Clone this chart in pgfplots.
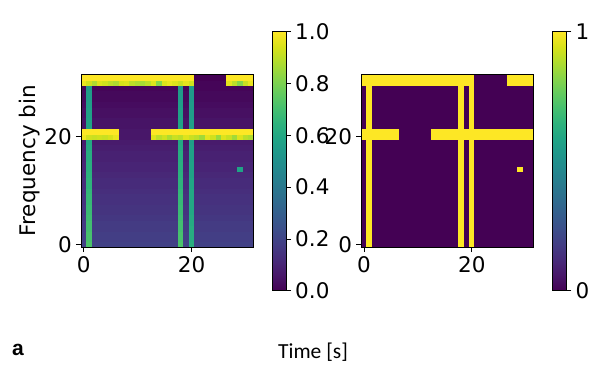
\documentclass[border=0pt]{standalone}
\usepackage{fontspec}
\setmainfont{DejaVu Sans}
\newfontfamily\carlito{Carlito}
\newfontfamily\libsans{Liberation Sans}
\usepackage{pgfplots}
\pgfplotsset{compat=1.18}
\newcommand\fs{\fontsize{21.5}{25}\selectfont}

\pgfplotsset{
  /pgf/number format/assume math mode=true,
  hm/.style={
    scale only axis, width=172.5pt, height=172.5pt,
    xmin=-0.5, xmax=31.5, ymin=-0.5, ymax=31.5,
    xtick={0,20}, ytick={0,20},
    tick align=outside, xtick pos=bottom, ytick pos=left,
    major tick length=5pt,
    tick style={line width=0.9pt, black},
    axis line style={line width=0.9pt},
    tick label style={font=\fs, inner sep=4pt},
    colormap/viridis, point meta min=0, point meta max=1,
    axis on top,
    colorbar,
  },
  cb/.style={
    at={(parent axis.east)}, anchor=west, xshift=10.5pt, yshift=-0.5pt,
    scale only axis, width=13.5pt, height=259pt,
    ytick pos=right, yticklabel pos=right, tick align=outside,
    major tick length=5pt, tick style={line width=0.9pt, black},
    axis line style={line width=0.9pt},
    tick label style={font=\fs, inner sep=4pt},
  },
}

\begin{document}
\begin{tikzpicture}
\useasboundingbox (0,0) rectangle (604pt,373pt);

% measured spectrogram (continuous values)
\begin{axis}[hm, at={(81pt,126pt)}, anchor=south west,
  ylabel={Frequency bin},
  ylabel style={font=\fs, at={(axis description cs:-0.296,0.5)}, anchor=center},
  colorbar style={cb, ytick={0,0.2,0.4,0.6,0.8,1},
    yticklabel style={/pgf/number format/.cd, fixed, fixed zerofill, precision=1}},
]
\addplot[matrix plot*, mesh/cols=32, point meta=explicit] coordinates {
(0,0)[.19] (1,0)[.72] (2,0)[.19] (3,0)[.19] (4,0)[.19] (5,0)[.19] (6,0)[.19] (7,0)[.19] (8,0)[.19] (9,0)[.19] (10,0)[.19] (11,0)[.19] (12,0)[.19] (13,0)[.19] (14,0)[.19] (15,0)[.19] (16,0)[.19] (17,0)[.19] (18,0)[.72] (19,0)[.19] (20,0)[.63] (21,0)[.19] (22,0)[.19] (23,0)[.19] (24,0)[.19] (25,0)[.19] (26,0)[.19] (27,0)[.19] (28,0)[.19] (29,0)[.19] (30,0)[.19] (31,0)[.19]

(0,1)[.18] (1,1)[.71] (2,1)[.18] (3,1)[.18] (4,1)[.18] (5,1)[.18] (6,1)[.18] (7,1)[.18] (8,1)[.18] (9,1)[.18] (10,1)[.18] (11,1)[.18] (12,1)[.18] (13,1)[.18] (14,1)[.18] (15,1)[.18] (16,1)[.18] (17,1)[.18] (18,1)[.71] (19,1)[.18] (20,1)[.62] (21,1)[.18] (22,1)[.18] (23,1)[.18] (24,1)[.18] (25,1)[.18] (26,1)[.18] (27,1)[.18] (28,1)[.18] (29,1)[.18] (30,1)[.18] (31,1)[.18]

(0,2)[.18] (1,2)[.71] (2,2)[.18] (3,2)[.18] (4,2)[.18] (5,2)[.18] (6,2)[.18] (7,2)[.18] (8,2)[.18] (9,2)[.18] (10,2)[.18] (11,2)[.18] (12,2)[.18] (13,2)[.18] (14,2)[.18] (15,2)[.18] (16,2)[.18] (17,2)[.18] (18,2)[.71] (19,2)[.18] (20,2)[.62] (21,2)[.18] (22,2)[.18] (23,2)[.18] (24,2)[.18] (25,2)[.18] (26,2)[.18] (27,2)[.18] (28,2)[.18] (29,2)[.18] (30,2)[.18] (31,2)[.18]

(0,3)[.17] (1,3)[.70] (2,3)[.17] (3,3)[.17] (4,3)[.17] (5,3)[.17] (6,3)[.17] (7,3)[.17] (8,3)[.17] (9,3)[.17] (10,3)[.17] (11,3)[.17] (12,3)[.17] (13,3)[.17] (14,3)[.17] (15,3)[.17] (16,3)[.17] (17,3)[.17] (18,3)[.70] (19,3)[.17] (20,3)[.62] (21,3)[.17] (22,3)[.17] (23,3)[.17] (24,3)[.17] (25,3)[.17] (26,3)[.17] (27,3)[.17] (28,3)[.17] (29,3)[.17] (30,3)[.17] (31,3)[.17]

(0,4)[.17] (1,4)[.70] (2,4)[.17] (3,4)[.17] (4,4)[.17] (5,4)[.17] (6,4)[.17] (7,4)[.17] (8,4)[.17] (9,4)[.17] (10,4)[.17] (11,4)[.17] (12,4)[.17] (13,4)[.17] (14,4)[.17] (15,4)[.17] (16,4)[.17] (17,4)[.17] (18,4)[.70] (19,4)[.17] (20,4)[.61] (21,4)[.17] (22,4)[.17] (23,4)[.17] (24,4)[.17] (25,4)[.17] (26,4)[.17] (27,4)[.17] (28,4)[.17] (29,4)[.17] (30,4)[.17] (31,4)[.17]

(0,5)[.16] (1,5)[.69] (2,5)[.16] (3,5)[.16] (4,5)[.16] (5,5)[.16] (6,5)[.16] (7,5)[.16] (8,5)[.16] (9,5)[.16] (10,5)[.16] (11,5)[.16] (12,5)[.16] (13,5)[.16] (14,5)[.16] (15,5)[.16] (16,5)[.16] (17,5)[.16] (18,5)[.69] (19,5)[.16] (20,5)[.61] (21,5)[.16] (22,5)[.16] (23,5)[.16] (24,5)[.16] (25,5)[.16] (26,5)[.16] (27,5)[.16] (28,5)[.16] (29,5)[.16] (30,5)[.16] (31,5)[.16]

(0,6)[.15] (1,6)[.68] (2,6)[.15] (3,6)[.15] (4,6)[.15] (5,6)[.15] (6,6)[.15] (7,6)[.15] (8,6)[.15] (9,6)[.15] (10,6)[.15] (11,6)[.15] (12,6)[.15] (13,6)[.15] (14,6)[.15] (15,6)[.15] (16,6)[.15] (17,6)[.15] (18,6)[.68] (19,6)[.15] (20,6)[.60] (21,6)[.15] (22,6)[.15] (23,6)[.15] (24,6)[.15] (25,6)[.15] (26,6)[.15] (27,6)[.15] (28,6)[.15] (29,6)[.15] (30,6)[.15] (31,6)[.15]

(0,7)[.15] (1,7)[.68] (2,7)[.15] (3,7)[.15] (4,7)[.15] (5,7)[.15] (6,7)[.15] (7,7)[.15] (8,7)[.15] (9,7)[.15] (10,7)[.15] (11,7)[.15] (12,7)[.15] (13,7)[.15] (14,7)[.15] (15,7)[.15] (16,7)[.15] (17,7)[.15] (18,7)[.68] (19,7)[.15] (20,7)[.60] (21,7)[.15] (22,7)[.15] (23,7)[.15] (24,7)[.15] (25,7)[.15] (26,7)[.15] (27,7)[.15] (28,7)[.15] (29,7)[.15] (30,7)[.15] (31,7)[.15]

(0,8)[.14] (1,8)[.67] (2,8)[.14] (3,8)[.14] (4,8)[.14] (5,8)[.14] (6,8)[.14] (7,8)[.14] (8,8)[.14] (9,8)[.14] (10,8)[.14] (11,8)[.14] (12,8)[.14] (13,8)[.14] (14,8)[.14] (15,8)[.14] (16,8)[.14] (17,8)[.14] (18,8)[.67] (19,8)[.14] (20,8)[.60] (21,8)[.14] (22,8)[.14] (23,8)[.14] (24,8)[.14] (25,8)[.14] (26,8)[.14] (27,8)[.14] (28,8)[.14] (29,8)[.14] (30,8)[.14] (31,8)[.14]

(0,9)[.14] (1,9)[.67] (2,9)[.14] (3,9)[.14] (4,9)[.14] (5,9)[.14] (6,9)[.14] (7,9)[.14] (8,9)[.14] (9,9)[.14] (10,9)[.14] (11,9)[.14] (12,9)[.14] (13,9)[.14] (14,9)[.14] (15,9)[.14] (16,9)[.14] (17,9)[.14] (18,9)[.67] (19,9)[.14] (20,9)[.60] (21,9)[.14] (22,9)[.14] (23,9)[.14] (24,9)[.14] (25,9)[.14] (26,9)[.14] (27,9)[.14] (28,9)[.14] (29,9)[.14] (30,9)[.14] (31,9)[.14]

(0,10)[.13] (1,10)[.66] (2,10)[.13] (3,10)[.13] (4,10)[.13] (5,10)[.13] (6,10)[.13] (7,10)[.13] (8,10)[.13] (9,10)[.13] (10,10)[.13] (11,10)[.13] (12,10)[.13] (13,10)[.13] (14,10)[.13] (15,10)[.13] (16,10)[.13] (17,10)[.13] (18,10)[.66] (19,10)[.13] (20,10)[.60] (21,10)[.13] (22,10)[.13] (23,10)[.13] (24,10)[.13] (25,10)[.13] (26,10)[.13] (27,10)[.13] (28,10)[.13] (29,10)[.13] (30,10)[.13] (31,10)[.13]

(0,11)[.12] (1,11)[.65] (2,11)[.12] (3,11)[.12] (4,11)[.12] (5,11)[.12] (6,11)[.12] (7,11)[.12] (8,11)[.12] (9,11)[.12] (10,11)[.12] (11,11)[.12] (12,11)[.12] (13,11)[.12] (14,11)[.12] (15,11)[.12] (16,11)[.12] (17,11)[.12] (18,11)[.65] (19,11)[.12] (20,11)[.59] (21,11)[.12] (22,11)[.12] (23,11)[.12] (24,11)[.12] (25,11)[.12] (26,11)[.12] (27,11)[.12] (28,11)[.12] (29,11)[.12] (30,11)[.12] (31,11)[.12]

(0,12)[.12] (1,12)[.65] (2,12)[.12] (3,12)[.12] (4,12)[.12] (5,12)[.12] (6,12)[.12] (7,12)[.12] (8,12)[.12] (9,12)[.12] (10,12)[.12] (11,12)[.12] (12,12)[.12] (13,12)[.12] (14,12)[.12] (15,12)[.12] (16,12)[.12] (17,12)[.12] (18,12)[.65] (19,12)[.12] (20,12)[.59] (21,12)[.12] (22,12)[.12] (23,12)[.12] (24,12)[.12] (25,12)[.12] (26,12)[.12] (27,12)[.12] (28,12)[.12] (29,12)[.12] (30,12)[.12] (31,12)[.12]

(0,13)[.11] (1,13)[.64] (2,13)[.11] (3,13)[.11] (4,13)[.11] (5,13)[.11] (6,13)[.11] (7,13)[.11] (8,13)[.11] (9,13)[.11] (10,13)[.11] (11,13)[.11] (12,13)[.11] (13,13)[.11] (14,13)[.11] (15,13)[.11] (16,13)[.11] (17,13)[.11] (18,13)[.64] (19,13)[.11] (20,13)[.58] (21,13)[.11] (22,13)[.11] (23,13)[.11] (24,13)[.11] (25,13)[.11] (26,13)[.11] (27,13)[.11] (28,13)[.11] (29,13)[.11] (30,13)[.11] (31,13)[.11]

(0,14)[.10] (1,14)[.63] (2,14)[.10] (3,14)[.10] (4,14)[.10] (5,14)[.10] (6,14)[.10] (7,14)[.10] (8,14)[.10] (9,14)[.10] (10,14)[.10] (11,14)[.10] (12,14)[.10] (13,14)[.10] (14,14)[.10] (15,14)[.10] (16,14)[.10] (17,14)[.10] (18,14)[.63] (19,14)[.10] (20,14)[.58] (21,14)[.10] (22,14)[.10] (23,14)[.10] (24,14)[.10] (25,14)[.10] (26,14)[.10] (27,14)[.10] (28,14)[.10] (29,14)[.58] (30,14)[.10] (31,14)[.10]

(0,15)[.10] (1,15)[.63] (2,15)[.10] (3,15)[.10] (4,15)[.10] (5,15)[.10] (6,15)[.10] (7,15)[.10] (8,15)[.10] (9,15)[.10] (10,15)[.10] (11,15)[.10] (12,15)[.10] (13,15)[.10] (14,15)[.10] (15,15)[.10] (16,15)[.10] (17,15)[.10] (18,15)[.63] (19,15)[.10] (20,15)[.58] (21,15)[.10] (22,15)[.10] (23,15)[.10] (24,15)[.10] (25,15)[.10] (26,15)[.10] (27,15)[.10] (28,15)[.10] (29,15)[.10] (30,15)[.10] (31,15)[.10]

(0,16)[.09] (1,16)[.62] (2,16)[.09] (3,16)[.09] (4,16)[.09] (5,16)[.09] (6,16)[.09] (7,16)[.09] (8,16)[.09] (9,16)[.09] (10,16)[.09] (11,16)[.09] (12,16)[.09] (13,16)[.09] (14,16)[.09] (15,16)[.09] (16,16)[.09] (17,16)[.09] (18,16)[.62] (19,16)[.09] (20,16)[.57] (21,16)[.09] (22,16)[.09] (23,16)[.09] (24,16)[.09] (25,16)[.09] (26,16)[.09] (27,16)[.09] (28,16)[.09] (29,16)[.09] (30,16)[.09] (31,16)[.09]

(0,17)[.09] (1,17)[.62] (2,17)[.09] (3,17)[.09] (4,17)[.09] (5,17)[.09] (6,17)[.09] (7,17)[.09] (8,17)[.09] (9,17)[.09] (10,17)[.09] (11,17)[.09] (12,17)[.09] (13,17)[.09] (14,17)[.09] (15,17)[.09] (16,17)[.09] (17,17)[.09] (18,17)[.62] (19,17)[.09] (20,17)[.57] (21,17)[.09] (22,17)[.09] (23,17)[.09] (24,17)[.09] (25,17)[.09] (26,17)[.09] (27,17)[.09] (28,17)[.09] (29,17)[.09] (30,17)[.09] (31,17)[.09]

(0,18)[.08] (1,18)[.61] (2,18)[.08] (3,18)[.08] (4,18)[.08] (5,18)[.08] (6,18)[.08] (7,18)[.08] (8,18)[.08] (9,18)[.08] (10,18)[.08] (11,18)[.08] (12,18)[.08] (13,18)[.08] (14,18)[.08] (15,18)[.08] (16,18)[.08] (17,18)[.08] (18,18)[.61] (19,18)[.08] (20,18)[.57] (21,18)[.08] (22,18)[.08] (23,18)[.08] (24,18)[.08] (25,18)[.08] (26,18)[.08] (27,18)[.08] (28,18)[.08] (29,18)[.08] (30,18)[.08] (31,18)[.08]

(0,19)[.07] (1,19)[.60] (2,19)[.07] (3,19)[.07] (4,19)[.07] (5,19)[.07] (6,19)[.07] (7,19)[.07] (8,19)[.07] (9,19)[.07] (10,19)[.07] (11,19)[.07] (12,19)[.07] (13,19)[.07] (14,19)[.07] (15,19)[.07] (16,19)[.07] (17,19)[.07] (18,19)[.60] (19,19)[.07] (20,19)[.56] (21,19)[.07] (22,19)[.07] (23,19)[.07] (24,19)[.07] (25,19)[.07] (26,19)[.07] (27,19)[.07] (28,19)[.07] (29,19)[.07] (30,19)[.07] (31,19)[.07]

(0,20)[.98] (1,20)[.93] (2,20)[.92] (3,20)[.93] (4,20)[.92] (5,20)[.94] (6,20)[.97] (7,20)[.06] (8,20)[.06] (9,20)[.06] (10,20)[.06] (11,20)[.06] (12,20)[.06] (13,20)[.95] (14,20)[.90] (15,20)[.93] (16,20)[.88] (17,20)[.92] (18,20)[.90] (19,20)[.95] (20,20)[.92] (21,20)[.90] (22,20)[.86] (23,20)[.96] (24,20)[.93] (25,20)[.85] (26,20)[.95] (27,20)[.92] (28,20)[.86] (29,20)[.95] (30,20)[.90] (31,20)[.88]

(0,21)[1] (1,21)[1] (2,21)[1] (3,21)[1] (4,21)[1] (5,21)[1] (6,21)[1] (7,21)[.06] (8,21)[.06] (9,21)[.06] (10,21)[.06] (11,21)[.06] (12,21)[.06] (13,21)[1] (14,21)[1] (15,21)[1] (16,21)[1] (17,21)[1] (18,21)[1] (19,21)[1] (20,21)[1] (21,21)[1] (22,21)[1] (23,21)[1] (24,21)[1] (25,21)[1] (26,21)[1] (27,21)[1] (28,21)[1] (29,21)[1] (30,21)[1] (31,21)[1]

(0,22)[.05] (1,22)[.58] (2,22)[.05] (3,22)[.05] (4,22)[.05] (5,22)[.05] (6,22)[.05] (7,22)[.05] (8,22)[.05] (9,22)[.05] (10,22)[.05] (11,22)[.05] (12,22)[.05] (13,22)[.05] (14,22)[.05] (15,22)[.05] (16,22)[.05] (17,22)[.05] (18,22)[.58] (19,22)[.05] (20,22)[.56] (21,22)[.05] (22,22)[.05] (23,22)[.05] (24,22)[.05] (25,22)[.05] (26,22)[.05] (27,22)[.05] (28,22)[.05] (29,22)[.05] (30,22)[.05] (31,22)[.05]

(0,23)[.05] (1,23)[.58] (2,23)[.05] (3,23)[.05] (4,23)[.05] (5,23)[.05] (6,23)[.05] (7,23)[.05] (8,23)[.05] (9,23)[.05] (10,23)[.05] (11,23)[.05] (12,23)[.05] (13,23)[.05] (14,23)[.05] (15,23)[.05] (16,23)[.05] (17,23)[.05] (18,23)[.58] (19,23)[.05] (20,23)[.56] (21,23)[.05] (22,23)[.05] (23,23)[.05] (24,23)[.05] (25,23)[.05] (26,23)[.05] (27,23)[.05] (28,23)[.05] (29,23)[.05] (30,23)[.05] (31,23)[.05]

(0,24)[.04] (1,24)[.57] (2,24)[.04] (3,24)[.04] (4,24)[.04] (5,24)[.04] (6,24)[.04] (7,24)[.04] (8,24)[.04] (9,24)[.04] (10,24)[.04] (11,24)[.04] (12,24)[.04] (13,24)[.04] (14,24)[.04] (15,24)[.04] (16,24)[.04] (17,24)[.04] (18,24)[.57] (19,24)[.04] (20,24)[.55] (21,24)[.04] (22,24)[.04] (23,24)[.04] (24,24)[.04] (25,24)[.04] (26,24)[.04] (27,24)[.04] (28,24)[.04] (29,24)[.04] (30,24)[.04] (31,24)[.04]

(0,25)[.04] (1,25)[.57] (2,25)[.04] (3,25)[.04] (4,25)[.04] (5,25)[.04] (6,25)[.04] (7,25)[.04] (8,25)[.04] (9,25)[.04] (10,25)[.04] (11,25)[.04] (12,25)[.04] (13,25)[.04] (14,25)[.04] (15,25)[.04] (16,25)[.04] (17,25)[.04] (18,25)[.57] (19,25)[.04] (20,25)[.55] (21,25)[.04] (22,25)[.04] (23,25)[.04] (24,25)[.04] (25,25)[.04] (26,25)[.04] (27,25)[.04] (28,25)[.04] (29,25)[.04] (30,25)[.04] (31,25)[.04]

(0,26)[.03] (1,26)[.56] (2,26)[.03] (3,26)[.03] (4,26)[.03] (5,26)[.03] (6,26)[.03] (7,26)[.03] (8,26)[.03] (9,26)[.03] (10,26)[.03] (11,26)[.03] (12,26)[.03] (13,26)[.03] (14,26)[.03] (15,26)[.03] (16,26)[.03] (17,26)[.03] (18,26)[.56] (19,26)[.03] (20,26)[.55] (21,26)[.03] (22,26)[.03] (23,26)[.03] (24,26)[.03] (25,26)[.03] (26,26)[.03] (27,26)[.03] (28,26)[.03] (29,26)[.03] (30,26)[.03] (31,26)[.03]

(0,27)[.02] (1,27)[.55] (2,27)[.02] (3,27)[.02] (4,27)[.02] (5,27)[.02] (6,27)[.02] (7,27)[.02] (8,27)[.02] (9,27)[.02] (10,27)[.02] (11,27)[.02] (12,27)[.02] (13,27)[.02] (14,27)[.02] (15,27)[.02] (16,27)[.02] (17,27)[.02] (18,27)[.55] (19,27)[.02] (20,27)[.54] (21,27)[.02] (22,27)[.02] (23,27)[.02] (24,27)[.02] (25,27)[.02] (26,27)[.02] (27,27)[.02] (28,27)[.02] (29,27)[.02] (30,27)[.02] (31,27)[.02]

(0,28)[.02] (1,28)[.55] (2,28)[.02] (3,28)[.02] (4,28)[.02] (5,28)[.02] (6,28)[.02] (7,28)[.02] (8,28)[.02] (9,28)[.02] (10,28)[.02] (11,28)[.02] (12,28)[.02] (13,28)[.02] (14,28)[.02] (15,28)[.02] (16,28)[.02] (17,28)[.02] (18,28)[.55] (19,28)[.02] (20,28)[.54] (21,28)[.02] (22,28)[.02] (23,28)[.02] (24,28)[.02] (25,28)[.02] (26,28)[.02] (27,28)[.02] (28,28)[.02] (29,28)[.02] (30,28)[.02] (31,28)[.02]

(0,29)[.01] (1,29)[.54] (2,29)[.01] (3,29)[.01] (4,29)[.01] (5,29)[.01] (6,29)[.01] (7,29)[.01] (8,29)[.01] (9,29)[.01] (10,29)[.01] (11,29)[.01] (12,29)[.01] (13,29)[.01] (14,29)[.01] (15,29)[.01] (16,29)[.01] (17,29)[.01] (18,29)[.54] (19,29)[.01] (20,29)[.54] (21,29)[.01] (22,29)[.01] (23,29)[.01] (24,29)[.01] (25,29)[.01] (26,29)[.01] (27,29)[.01] (28,29)[.01] (29,29)[.01] (30,29)[.01] (31,29)[.01]

(0,30)[.97] (1,30)[.93] (2,30)[.88] (3,30)[.95] (4,30)[.93] (5,30)[.90] (6,30)[.88] (7,30)[.94] (8,30)[.95] (9,30)[.90] (10,30)[.88] (11,30)[.87] (12,30)[.90] (13,30)[.95] (14,30)[.82] (15,30)[.95] (16,30)[.97] (17,30)[.95] (18,30)[.92] (19,30)[.96] (20,30)[.93] (21,30)[.01] (22,30)[.01] (23,30)[.01] (24,30)[.01] (25,30)[.01] (26,30)[.01] (27,30)[.96] (28,30)[.90] (29,30)[.82] (30,30)[.92] (31,30)[.97]

(0,31)[1] (1,31)[1] (2,31)[1] (3,31)[1] (4,31)[1] (5,31)[1] (6,31)[1] (7,31)[1] (8,31)[1] (9,31)[1] (10,31)[1] (11,31)[1] (12,31)[1] (13,31)[1] (14,31)[1] (15,31)[1] (16,31)[1] (17,31)[1] (18,31)[1] (19,31)[1] (20,31)[1] (21,31)[0] (22,31)[0] (23,31)[0] (24,31)[0] (25,31)[0] (26,31)[0] (27,31)[1] (28,31)[1] (29,31)[1] (30,31)[1] (31,31)[1]
};
\end{axis}

% thresholded (binary) mask
\begin{axis}[hm, at={(361.3pt,126pt)}, anchor=south west,
  colorbar style={cb, ytick={0,1}},
]
\addplot[matrix plot*, mesh/cols=32, point meta=explicit] coordinates {
(0,0)[0] (1,0)[1] (2,0)[0] (3,0)[0] (4,0)[0] (5,0)[0] (6,0)[0] (7,0)[0] (8,0)[0] (9,0)[0] (10,0)[0] (11,0)[0] (12,0)[0] (13,0)[0] (14,0)[0] (15,0)[0] (16,0)[0] (17,0)[0] (18,0)[1] (19,0)[0] (20,0)[1] (21,0)[0] (22,0)[0] (23,0)[0] (24,0)[0] (25,0)[0] (26,0)[0] (27,0)[0] (28,0)[0] (29,0)[0] (30,0)[0] (31,0)[0]
(0,1)[0] (1,1)[1] (2,1)[0] (3,1)[0] (4,1)[0] (5,1)[0] (6,1)[0] (7,1)[0] (8,1)[0] (9,1)[0] (10,1)[0] (11,1)[0] (12,1)[0] (13,1)[0] (14,1)[0] (15,1)[0] (16,1)[0] (17,1)[0] (18,1)[1] (19,1)[0] (20,1)[1] (21,1)[0] (22,1)[0] (23,1)[0] (24,1)[0] (25,1)[0] (26,1)[0] (27,1)[0] (28,1)[0] (29,1)[0] (30,1)[0] (31,1)[0]
(0,2)[0] (1,2)[1] (2,2)[0] (3,2)[0] (4,2)[0] (5,2)[0] (6,2)[0] (7,2)[0] (8,2)[0] (9,2)[0] (10,2)[0] (11,2)[0] (12,2)[0] (13,2)[0] (14,2)[0] (15,2)[0] (16,2)[0] (17,2)[0] (18,2)[1] (19,2)[0] (20,2)[1] (21,2)[0] (22,2)[0] (23,2)[0] (24,2)[0] (25,2)[0] (26,2)[0] (27,2)[0] (28,2)[0] (29,2)[0] (30,2)[0] (31,2)[0]
(0,3)[0] (1,3)[1] (2,3)[0] (3,3)[0] (4,3)[0] (5,3)[0] (6,3)[0] (7,3)[0] (8,3)[0] (9,3)[0] (10,3)[0] (11,3)[0] (12,3)[0] (13,3)[0] (14,3)[0] (15,3)[0] (16,3)[0] (17,3)[0] (18,3)[1] (19,3)[0] (20,3)[1] (21,3)[0] (22,3)[0] (23,3)[0] (24,3)[0] (25,3)[0] (26,3)[0] (27,3)[0] (28,3)[0] (29,3)[0] (30,3)[0] (31,3)[0]
(0,4)[0] (1,4)[1] (2,4)[0] (3,4)[0] (4,4)[0] (5,4)[0] (6,4)[0] (7,4)[0] (8,4)[0] (9,4)[0] (10,4)[0] (11,4)[0] (12,4)[0] (13,4)[0] (14,4)[0] (15,4)[0] (16,4)[0] (17,4)[0] (18,4)[1] (19,4)[0] (20,4)[1] (21,4)[0] (22,4)[0] (23,4)[0] (24,4)[0] (25,4)[0] (26,4)[0] (27,4)[0] (28,4)[0] (29,4)[0] (30,4)[0] (31,4)[0]
(0,5)[0] (1,5)[1] (2,5)[0] (3,5)[0] (4,5)[0] (5,5)[0] (6,5)[0] (7,5)[0] (8,5)[0] (9,5)[0] (10,5)[0] (11,5)[0] (12,5)[0] (13,5)[0] (14,5)[0] (15,5)[0] (16,5)[0] (17,5)[0] (18,5)[1] (19,5)[0] (20,5)[1] (21,5)[0] (22,5)[0] (23,5)[0] (24,5)[0] (25,5)[0] (26,5)[0] (27,5)[0] (28,5)[0] (29,5)[0] (30,5)[0] (31,5)[0]
(0,6)[0] (1,6)[1] (2,6)[0] (3,6)[0] (4,6)[0] (5,6)[0] (6,6)[0] (7,6)[0] (8,6)[0] (9,6)[0] (10,6)[0] (11,6)[0] (12,6)[0] (13,6)[0] (14,6)[0] (15,6)[0] (16,6)[0] (17,6)[0] (18,6)[1] (19,6)[0] (20,6)[1] (21,6)[0] (22,6)[0] (23,6)[0] (24,6)[0] (25,6)[0] (26,6)[0] (27,6)[0] (28,6)[0] (29,6)[0] (30,6)[0] (31,6)[0]
(0,7)[0] (1,7)[1] (2,7)[0] (3,7)[0] (4,7)[0] (5,7)[0] (6,7)[0] (7,7)[0] (8,7)[0] (9,7)[0] (10,7)[0] (11,7)[0] (12,7)[0] (13,7)[0] (14,7)[0] (15,7)[0] (16,7)[0] (17,7)[0] (18,7)[1] (19,7)[0] (20,7)[1] (21,7)[0] (22,7)[0] (23,7)[0] (24,7)[0] (25,7)[0] (26,7)[0] (27,7)[0] (28,7)[0] (29,7)[0] (30,7)[0] (31,7)[0]
(0,8)[0] (1,8)[1] (2,8)[0] (3,8)[0] (4,8)[0] (5,8)[0] (6,8)[0] (7,8)[0] (8,8)[0] (9,8)[0] (10,8)[0] (11,8)[0] (12,8)[0] (13,8)[0] (14,8)[0] (15,8)[0] (16,8)[0] (17,8)[0] (18,8)[1] (19,8)[0] (20,8)[1] (21,8)[0] (22,8)[0] (23,8)[0] (24,8)[0] (25,8)[0] (26,8)[0] (27,8)[0] (28,8)[0] (29,8)[0] (30,8)[0] (31,8)[0]
(0,9)[0] (1,9)[1] (2,9)[0] (3,9)[0] (4,9)[0] (5,9)[0] (6,9)[0] (7,9)[0] (8,9)[0] (9,9)[0] (10,9)[0] (11,9)[0] (12,9)[0] (13,9)[0] (14,9)[0] (15,9)[0] (16,9)[0] (17,9)[0] (18,9)[1] (19,9)[0] (20,9)[1] (21,9)[0] (22,9)[0] (23,9)[0] (24,9)[0] (25,9)[0] (26,9)[0] (27,9)[0] (28,9)[0] (29,9)[0] (30,9)[0] (31,9)[0]
(0,10)[0] (1,10)[1] (2,10)[0] (3,10)[0] (4,10)[0] (5,10)[0] (6,10)[0] (7,10)[0] (8,10)[0] (9,10)[0] (10,10)[0] (11,10)[0] (12,10)[0] (13,10)[0] (14,10)[0] (15,10)[0] (16,10)[0] (17,10)[0] (18,10)[1] (19,10)[0] (20,10)[1] (21,10)[0] (22,10)[0] (23,10)[0] (24,10)[0] (25,10)[0] (26,10)[0] (27,10)[0] (28,10)[0] (29,10)[0] (30,10)[0] (31,10)[0]
(0,11)[0] (1,11)[1] (2,11)[0] (3,11)[0] (4,11)[0] (5,11)[0] (6,11)[0] (7,11)[0] (8,11)[0] (9,11)[0] (10,11)[0] (11,11)[0] (12,11)[0] (13,11)[0] (14,11)[0] (15,11)[0] (16,11)[0] (17,11)[0] (18,11)[1] (19,11)[0] (20,11)[1] (21,11)[0] (22,11)[0] (23,11)[0] (24,11)[0] (25,11)[0] (26,11)[0] (27,11)[0] (28,11)[0] (29,11)[0] (30,11)[0] (31,11)[0]
(0,12)[0] (1,12)[1] (2,12)[0] (3,12)[0] (4,12)[0] (5,12)[0] (6,12)[0] (7,12)[0] (8,12)[0] (9,12)[0] (10,12)[0] (11,12)[0] (12,12)[0] (13,12)[0] (14,12)[0] (15,12)[0] (16,12)[0] (17,12)[0] (18,12)[1] (19,12)[0] (20,12)[1] (21,12)[0] (22,12)[0] (23,12)[0] (24,12)[0] (25,12)[0] (26,12)[0] (27,12)[0] (28,12)[0] (29,12)[0] (30,12)[0] (31,12)[0]
(0,13)[0] (1,13)[1] (2,13)[0] (3,13)[0] (4,13)[0] (5,13)[0] (6,13)[0] (7,13)[0] (8,13)[0] (9,13)[0] (10,13)[0] (11,13)[0] (12,13)[0] (13,13)[0] (14,13)[0] (15,13)[0] (16,13)[0] (17,13)[0] (18,13)[1] (19,13)[0] (20,13)[1] (21,13)[0] (22,13)[0] (23,13)[0] (24,13)[0] (25,13)[0] (26,13)[0] (27,13)[0] (28,13)[0] (29,13)[0] (30,13)[0] (31,13)[0]
(0,14)[0] (1,14)[1] (2,14)[0] (3,14)[0] (4,14)[0] (5,14)[0] (6,14)[0] (7,14)[0] (8,14)[0] (9,14)[0] (10,14)[0] (11,14)[0] (12,14)[0] (13,14)[0] (14,14)[0] (15,14)[0] (16,14)[0] (17,14)[0] (18,14)[1] (19,14)[0] (20,14)[1] (21,14)[0] (22,14)[0] (23,14)[0] (24,14)[0] (25,14)[0] (26,14)[0] (27,14)[0] (28,14)[0] (29,14)[1] (30,14)[0] (31,14)[0]
(0,15)[0] (1,15)[1] (2,15)[0] (3,15)[0] (4,15)[0] (5,15)[0] (6,15)[0] (7,15)[0] (8,15)[0] (9,15)[0] (10,15)[0] (11,15)[0] (12,15)[0] (13,15)[0] (14,15)[0] (15,15)[0] (16,15)[0] (17,15)[0] (18,15)[1] (19,15)[0] (20,15)[1] (21,15)[0] (22,15)[0] (23,15)[0] (24,15)[0] (25,15)[0] (26,15)[0] (27,15)[0] (28,15)[0] (29,15)[0] (30,15)[0] (31,15)[0]
(0,16)[0] (1,16)[1] (2,16)[0] (3,16)[0] (4,16)[0] (5,16)[0] (6,16)[0] (7,16)[0] (8,16)[0] (9,16)[0] (10,16)[0] (11,16)[0] (12,16)[0] (13,16)[0] (14,16)[0] (15,16)[0] (16,16)[0] (17,16)[0] (18,16)[1] (19,16)[0] (20,16)[1] (21,16)[0] (22,16)[0] (23,16)[0] (24,16)[0] (25,16)[0] (26,16)[0] (27,16)[0] (28,16)[0] (29,16)[0] (30,16)[0] (31,16)[0]
(0,17)[0] (1,17)[1] (2,17)[0] (3,17)[0] (4,17)[0] (5,17)[0] (6,17)[0] (7,17)[0] (8,17)[0] (9,17)[0] (10,17)[0] (11,17)[0] (12,17)[0] (13,17)[0] (14,17)[0] (15,17)[0] (16,17)[0] (17,17)[0] (18,17)[1] (19,17)[0] (20,17)[1] (21,17)[0] (22,17)[0] (23,17)[0] (24,17)[0] (25,17)[0] (26,17)[0] (27,17)[0] (28,17)[0] (29,17)[0] (30,17)[0] (31,17)[0]
(0,18)[0] (1,18)[1] (2,18)[0] (3,18)[0] (4,18)[0] (5,18)[0] (6,18)[0] (7,18)[0] (8,18)[0] (9,18)[0] (10,18)[0] (11,18)[0] (12,18)[0] (13,18)[0] (14,18)[0] (15,18)[0] (16,18)[0] (17,18)[0] (18,18)[1] (19,18)[0] (20,18)[1] (21,18)[0] (22,18)[0] (23,18)[0] (24,18)[0] (25,18)[0] (26,18)[0] (27,18)[0] (28,18)[0] (29,18)[0] (30,18)[0] (31,18)[0]
(0,19)[0] (1,19)[1] (2,19)[0] (3,19)[0] (4,19)[0] (5,19)[0] (6,19)[0] (7,19)[0] (8,19)[0] (9,19)[0] (10,19)[0] (11,19)[0] (12,19)[0] (13,19)[0] (14,19)[0] (15,19)[0] (16,19)[0] (17,19)[0] (18,19)[1] (19,19)[0] (20,19)[1] (21,19)[0] (22,19)[0] (23,19)[0] (24,19)[0] (25,19)[0] (26,19)[0] (27,19)[0] (28,19)[0] (29,19)[0] (30,19)[0] (31,19)[0]
(0,20)[1] (1,20)[1] (2,20)[1] (3,20)[1] (4,20)[1] (5,20)[1] (6,20)[1] (7,20)[0] (8,20)[0] (9,20)[0] (10,20)[0] (11,20)[0] (12,20)[0] (13,20)[1] (14,20)[1] (15,20)[1] (16,20)[1] (17,20)[1] (18,20)[1] (19,20)[1] (20,20)[1] (21,20)[1] (22,20)[1] (23,20)[1] (24,20)[1] (25,20)[1] (26,20)[1] (27,20)[1] (28,20)[1] (29,20)[1] (30,20)[1] (31,20)[1]
(0,21)[1] (1,21)[1] (2,21)[1] (3,21)[1] (4,21)[1] (5,21)[1] (6,21)[1] (7,21)[0] (8,21)[0] (9,21)[0] (10,21)[0] (11,21)[0] (12,21)[0] (13,21)[1] (14,21)[1] (15,21)[1] (16,21)[1] (17,21)[1] (18,21)[1] (19,21)[1] (20,21)[1] (21,21)[1] (22,21)[1] (23,21)[1] (24,21)[1] (25,21)[1] (26,21)[1] (27,21)[1] (28,21)[1] (29,21)[1] (30,21)[1] (31,21)[1]
(0,22)[0] (1,22)[1] (2,22)[0] (3,22)[0] (4,22)[0] (5,22)[0] (6,22)[0] (7,22)[0] (8,22)[0] (9,22)[0] (10,22)[0] (11,22)[0] (12,22)[0] (13,22)[0] (14,22)[0] (15,22)[0] (16,22)[0] (17,22)[0] (18,22)[1] (19,22)[0] (20,22)[1] (21,22)[0] (22,22)[0] (23,22)[0] (24,22)[0] (25,22)[0] (26,22)[0] (27,22)[0] (28,22)[0] (29,22)[0] (30,22)[0] (31,22)[0]
(0,23)[0] (1,23)[1] (2,23)[0] (3,23)[0] (4,23)[0] (5,23)[0] (6,23)[0] (7,23)[0] (8,23)[0] (9,23)[0] (10,23)[0] (11,23)[0] (12,23)[0] (13,23)[0] (14,23)[0] (15,23)[0] (16,23)[0] (17,23)[0] (18,23)[1] (19,23)[0] (20,23)[1] (21,23)[0] (22,23)[0] (23,23)[0] (24,23)[0] (25,23)[0] (26,23)[0] (27,23)[0] (28,23)[0] (29,23)[0] (30,23)[0] (31,23)[0]
(0,24)[0] (1,24)[1] (2,24)[0] (3,24)[0] (4,24)[0] (5,24)[0] (6,24)[0] (7,24)[0] (8,24)[0] (9,24)[0] (10,24)[0] (11,24)[0] (12,24)[0] (13,24)[0] (14,24)[0] (15,24)[0] (16,24)[0] (17,24)[0] (18,24)[1] (19,24)[0] (20,24)[1] (21,24)[0] (22,24)[0] (23,24)[0] (24,24)[0] (25,24)[0] (26,24)[0] (27,24)[0] (28,24)[0] (29,24)[0] (30,24)[0] (31,24)[0]
(0,25)[0] (1,25)[1] (2,25)[0] (3,25)[0] (4,25)[0] (5,25)[0] (6,25)[0] (7,25)[0] (8,25)[0] (9,25)[0] (10,25)[0] (11,25)[0] (12,25)[0] (13,25)[0] (14,25)[0] (15,25)[0] (16,25)[0] (17,25)[0] (18,25)[1] (19,25)[0] (20,25)[1] (21,25)[0] (22,25)[0] (23,25)[0] (24,25)[0] (25,25)[0] (26,25)[0] (27,25)[0] (28,25)[0] (29,25)[0] (30,25)[0] (31,25)[0]
(0,26)[0] (1,26)[1] (2,26)[0] (3,26)[0] (4,26)[0] (5,26)[0] (6,26)[0] (7,26)[0] (8,26)[0] (9,26)[0] (10,26)[0] (11,26)[0] (12,26)[0] (13,26)[0] (14,26)[0] (15,26)[0] (16,26)[0] (17,26)[0] (18,26)[1] (19,26)[0] (20,26)[1] (21,26)[0] (22,26)[0] (23,26)[0] (24,26)[0] (25,26)[0] (26,26)[0] (27,26)[0] (28,26)[0] (29,26)[0] (30,26)[0] (31,26)[0]
(0,27)[0] (1,27)[1] (2,27)[0] (3,27)[0] (4,27)[0] (5,27)[0] (6,27)[0] (7,27)[0] (8,27)[0] (9,27)[0] (10,27)[0] (11,27)[0] (12,27)[0] (13,27)[0] (14,27)[0] (15,27)[0] (16,27)[0] (17,27)[0] (18,27)[1] (19,27)[0] (20,27)[1] (21,27)[0] (22,27)[0] (23,27)[0] (24,27)[0] (25,27)[0] (26,27)[0] (27,27)[0] (28,27)[0] (29,27)[0] (30,27)[0] (31,27)[0]
(0,28)[0] (1,28)[1] (2,28)[0] (3,28)[0] (4,28)[0] (5,28)[0] (6,28)[0] (7,28)[0] (8,28)[0] (9,28)[0] (10,28)[0] (11,28)[0] (12,28)[0] (13,28)[0] (14,28)[0] (15,28)[0] (16,28)[0] (17,28)[0] (18,28)[1] (19,28)[0] (20,28)[1] (21,28)[0] (22,28)[0] (23,28)[0] (24,28)[0] (25,28)[0] (26,28)[0] (27,28)[0] (28,28)[0] (29,28)[0] (30,28)[0] (31,28)[0]
(0,29)[0] (1,29)[1] (2,29)[0] (3,29)[0] (4,29)[0] (5,29)[0] (6,29)[0] (7,29)[0] (8,29)[0] (9,29)[0] (10,29)[0] (11,29)[0] (12,29)[0] (13,29)[0] (14,29)[0] (15,29)[0] (16,29)[0] (17,29)[0] (18,29)[1] (19,29)[0] (20,29)[1] (21,29)[0] (22,29)[0] (23,29)[0] (24,29)[0] (25,29)[0] (26,29)[0] (27,29)[0] (28,29)[0] (29,29)[0] (30,29)[0] (31,29)[0]
(0,30)[1] (1,30)[1] (2,30)[1] (3,30)[1] (4,30)[1] (5,30)[1] (6,30)[1] (7,30)[1] (8,30)[1] (9,30)[1] (10,30)[1] (11,30)[1] (12,30)[1] (13,30)[1] (14,30)[1] (15,30)[1] (16,30)[1] (17,30)[1] (18,30)[1] (19,30)[1] (20,30)[1] (21,30)[0] (22,30)[0] (23,30)[0] (24,30)[0] (25,30)[0] (26,30)[0] (27,30)[1] (28,30)[1] (29,30)[1] (30,30)[1] (31,30)[1]
(0,31)[1] (1,31)[1] (2,31)[1] (3,31)[1] (4,31)[1] (5,31)[1] (6,31)[1] (7,31)[1] (8,31)[1] (9,31)[1] (10,31)[1] (11,31)[1] (12,31)[1] (13,31)[1] (14,31)[1] (15,31)[1] (16,31)[1] (17,31)[1] (18,31)[1] (19,31)[1] (20,31)[1] (21,31)[0] (22,31)[0] (23,31)[0] (24,31)[0] (25,31)[0] (26,31)[0] (27,31)[1] (28,31)[1] (29,31)[1] (30,31)[1] (31,31)[1]
};
\end{axis}

\node[font={\carlito\fontsize{21.5}{25}\selectfont}] at (313pt,21pt) {Time [s]};
\node[font={\libsans\bfseries\fontsize{21}{25}\selectfont}] at (18pt,23pt) {a};
\end{tikzpicture}
\end{document}
